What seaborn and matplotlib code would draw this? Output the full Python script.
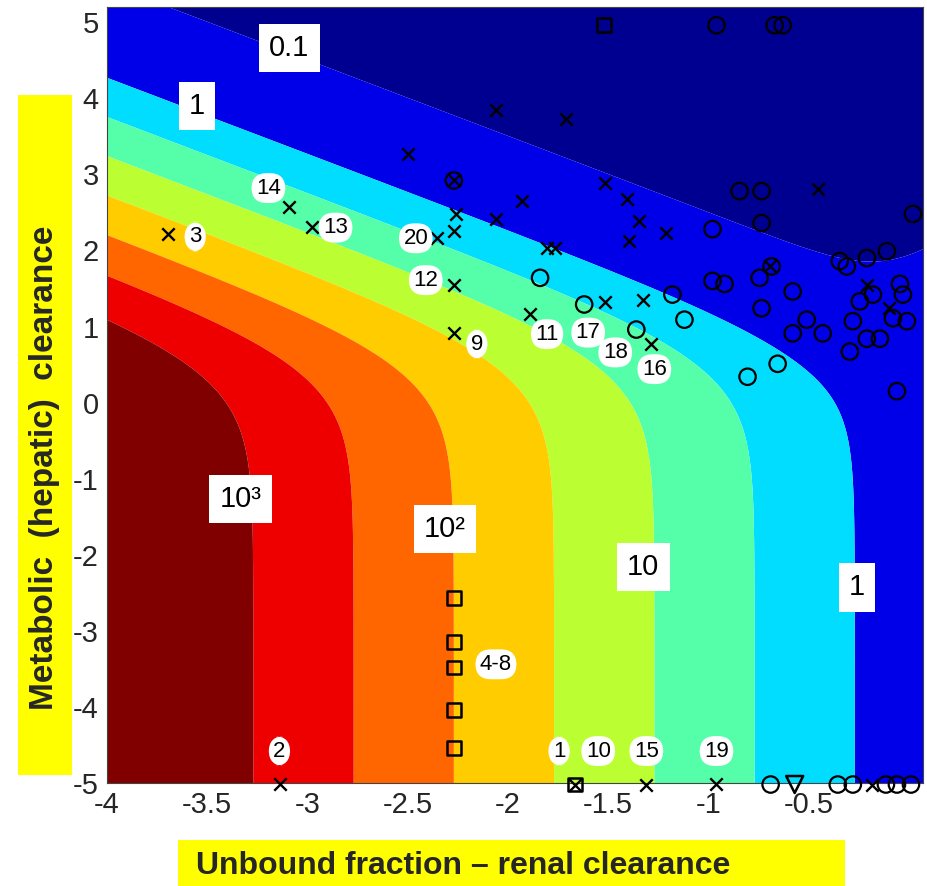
import numpy as np
import pandas as pd
import matplotlib
matplotlib.use("Agg")
import matplotlib.pyplot as plt
from matplotlib.patches import Rectangle
import seaborn as sns

# ---------------- data ----------------
# contour field parameters (log units): renal and hepatic offsets, hepatic spread
renal_offset = 0.27
hepatic_offset = 0.27
hepatic_scale = 1.03
hepatic_damp = 2.0
contour_levels = [-10, -1.2, 0, 0.5, 1, 1.5, 2, 2.5, 3, 10]
band_colors = ["#000090", "#0000E8", "#00DDFF", "#55FFAA", "#BBFF33",
               "#FFCC00", "#FF6600", "#EE0000", "#800000"]

level_label_text = ["0.1", "1", "10³", "10²", "10", "1"]
level_label_x = [-3.09, -3.55, -3.335, -2.315, -1.325, -0.26]
level_label_y = [4.66, 3.90, -1.27, -1.66, -2.16, -2.43]

cross_x = [-3.695, -3.09, -2.98, -2.355, -2.27, -2.26, -2.27, -2.27, -1.89, -1.515,
           -1.325, -1.285, -1.805, -1.765, -2.50, -2.06, -1.71, -2.06, -1.93, -1.515,
           -1.405, -1.345, -1.395, -1.21, -0.455, -0.695, -2.27, -0.21, -0.10,
           -3.135, -1.31, -0.96, -0.185, -1.665]
cross_y = [2.22, 2.57, 2.31, 2.16, 2.26, 2.48, 1.54, 0.92, 1.17, 1.32,
           1.35, 0.77, 2.03, 2.03, 3.27, 3.84, 3.73, 2.41, 2.65, 2.89,
           2.68, 2.39, 2.12, 2.23, 2.81, 1.79, 2.92, 1.55, 1.25,
           -5.01, -5.02, -5.01, -5.02, -5.02]

circle_x = [-1.84, -1.62, -1.36, -1.18, -1.12, -0.98, -0.98, -0.92, -0.845, -0.735,
            -0.735, -0.745, -0.685, -0.58, -0.735, -0.51, -0.43, -0.58, -0.345, -0.31,
            -0.21, -0.11, -0.045, -0.03, -0.245, -0.18, -0.28, -0.295, -0.21, -0.145,
            -0.08, -0.01, -0.06, -0.805, -0.655, 0.02, -0.96, -0.67, -0.63, -2.27,
            -0.69, -0.355, -0.28, -0.115, -0.06, 0.01]
circle_y = [1.64, 1.29, 0.96, 1.42, 1.09, 2.28, 1.60, 1.56, 2.78, 2.78,
            2.36, 1.64, 1.79, 1.46, 1.24, 1.09, 0.91, 0.91, 1.86, 1.79,
            1.90, 1.99, 1.56, 1.42, 1.33, 1.42, 1.07, 0.67, 0.84, 0.84,
            1.11, 1.07, 0.15, 0.34, 0.51, 2.48, 4.96, 4.96, 4.96, 2.92,
            -5.02, -5.02, -5.02, -5.02, -5.02, -5.02]

square_x = [-2.27, -2.27, -2.27, -2.27, -2.27, -1.665, -1.52]
square_y = [-2.57, -3.15, -3.48, -4.04, -4.54, -5.02, 4.96]

triangle_x = [-0.57]
triangle_y = [-5.02]

tag_text = ["3", "14", "13", "20", "12", "9", "11", "17", "18", "16",
            "4-8", "2", "1", "10", "15", "19"]
tag_x = [-3.56, -3.195, -2.86, -2.46, -2.41, -2.155, -1.805, -1.60, -1.465, -1.27,
         -2.06, -3.14, -1.745, -1.55, -1.31, -0.96]
tag_y = [2.18, 2.82, 2.30, 2.16, 1.61, 0.77, 0.90, 0.92, 0.66, 0.44,
         -3.44, -4.58, -4.58, -4.58, -4.58, -4.58]

x_ticks = [-4, -3.5, -3, -2.5, -2, -1.5, -1, -0.5]
x_tick_labels = ["-4", "-3.5", "-3", "-2.5", "-2", "-1.5", "-1", "-0.5"]
y_ticks = [-5, -4, -3, -2, -1, 0, 1, 2, 3, 4, 5]
y_tick_labels = ["-5", "-4", "-3", "-2", "-1", "0", "1", "2", "3", "4", "5"]
x_title = "Unbound fraction – renal clearance"
y_title = "Metabolic  (hepatic)  clearance"

# ---------------- figure ----------------
sns.set_theme(style="white")
FONT = ["Liberation Sans Narrow", "Liberation Sans", "DejaVu Sans"]
FONT_WIDE = ["Liberation Sans", "DejaVu Sans"]
plt.rcParams["font.family"] = FONT

fig = plt.figure(figsize=(9.27, 8.86), dpi=100)
ax = fig.add_axes([107 / 927, 1 - 783 / 886, (923 - 107) / 927, (783 - 7) / 886])

gx = np.linspace(-4, 0.07, 500)
gy = np.linspace(-5, 5.2, 500)
X, Y = np.meshgrid(gx, gy)
renal = 10 ** (X + renal_offset)
hepatic = 10 ** ((X + Y - hepatic_offset) / hepatic_scale) / (1 + hepatic_damp * 10 ** (3 * X))
Z = -np.log10(renal + hepatic)
ax.contourf(X, Y, Z, levels=contour_levels, colors=band_colors, antialiased=True)

mk = dict(ax=ax, clip_on=False, zorder=5, legend=False)
sns.scatterplot(x=circle_x, y=circle_y, marker="o", s=140, facecolor="none",
                edgecolor="black", linewidth=1.6, **mk)
sns.scatterplot(x=square_x, y=square_y, marker="s", s=95, facecolor="none",
                edgecolor="black", linewidth=1.8, **mk)
sns.scatterplot(x=triangle_x, y=triangle_y, marker="v", s=150, facecolor="none",
                edgecolor="black", linewidth=1.8, **mk)
sns.scatterplot(x=cross_x, y=cross_y, marker="x", s=80, color="black",
                linewidth=1.7, **mk)

for t, lx, ly in zip(level_label_text, level_label_x, level_label_y):
    ax.text(lx, ly, t, ha="center", va="center", fontsize=21, color="black", zorder=7,
            family=FONT,
            bbox=dict(boxstyle="square,pad=0.35", fc="white", ec="none"))

for t, lx, ly in zip(tag_text, tag_x, tag_y):
    ax.text(lx, ly, t, ha="center", va="center", fontsize=16, color="black", zorder=7,
            family=FONT,
            bbox=dict(boxstyle="round,pad=0.2,rounding_size=0.7", fc="white", ec="none"))

ax.set_xlim(-4, 0.07)
ax.set_ylim(-5, 5.2)
ax.set_xticks(x_ticks)
ax.set_xticklabels(x_tick_labels)
ax.set_yticks(y_ticks)
ax.set_yticklabels(y_tick_labels)
ax.tick_params(axis="x", labelsize=21, pad=6, length=0)
ax.tick_params(axis="y", labelsize=21, pad=6, length=0)
for sp in ax.spines.values():
    sp.set_linewidth(0.8)
    sp.set_color("#444444")
ax.set_xlabel("")
ax.set_ylabel("")

# yellow title boxes
fig.patches.append(Rectangle((18 / 927, 1 - 775 / 886), 54 / 927, 680 / 886,
                             transform=fig.transFigure, fc="#FFFF00", ec="none", zorder=0))
fig.patches.append(Rectangle((178 / 927, 0), 667 / 927, 46 / 886,
                             transform=fig.transFigure, fc="#FFFF00", ec="none", zorder=0))
fig.text(45 / 927, 1 - 468 / 886, y_title, rotation=90, ha="center", va="center",
         fontsize=24, fontweight="bold", family=FONT_WIDE)
fig.text(463 / 927, 1 - 866 / 886, x_title, ha="center", va="center",
         fontsize=23, fontweight="bold", family=FONT)

fig.savefig("out.png", dpi=100)
